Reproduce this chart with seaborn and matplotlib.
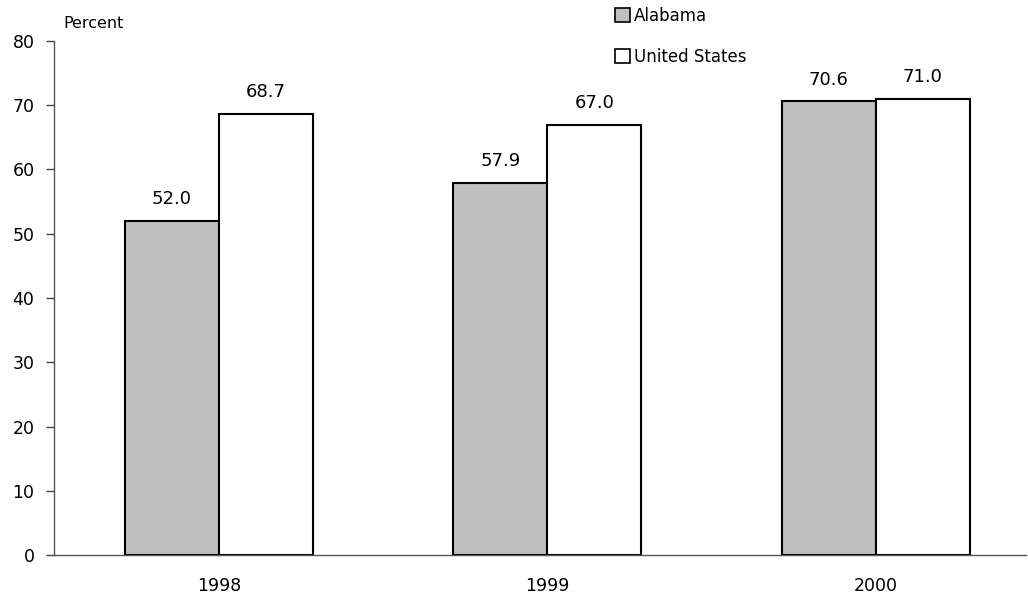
import pandas as pd
import matplotlib
matplotlib.use('Agg')
import matplotlib.pyplot as plt
from matplotlib.patches import Patch
import seaborn as sns

years = ['1998', '1999', '2000']
alabama = [52.0, 57.9, 70.6]
united_states = [68.7, 67.0, 71.0]
series = ['Alabama', 'United States']

df = pd.DataFrame({
    'year': years * 2,
    'percent': alabama + united_states,
    'area': [series[0]] * 3 + [series[1]] * 3,
})

sns.set_theme(style='white')
plt.rcParams['font.family'] = ['DejaVu Sans']
plt.rcParams['text.color'] = 'black'
plt.rcParams['xtick.color'] = 'black'
plt.rcParams['ytick.color'] = 'black'

fig = plt.figure(figsize=(10.28, 5.99), dpi=100)
ax = fig.add_axes([54 / 1028, 44 / 599, 972 / 1028, 514 / 599])

sns.barplot(data=df, x='year', y='percent', hue='area', hue_order=series,
            palette=['#c0c0c0', 'white'], edgecolor='black', linewidth=1.5,
            width=0.572, ax=ax, legend=False)

for cont in ax.containers:
    ax.bar_label(cont, fmt='%.1f', padding=9, fontsize=13, color='black')

ax.set_ylim(0, 80)
ax.set_xlim(-0.502, 2.457)
ax.set_yticks(range(0, 81, 10))
ax.set_xlabel('')
ax.set_ylabel('')
ax.tick_params(axis='y', left=True, length=6, width=1, color='#444444',
               labelsize=12.5, labelcolor='black', pad=8)
ax.tick_params(axis='x', bottom=False, labelsize=12.5, labelcolor='black', pad=10)
for s in ['top', 'right']:
    ax.spines[s].set_visible(False)
for s in ['left', 'bottom']:
    ax.spines[s].set_color('#555555')
    ax.spines[s].set_linewidth(1)

fig.text(63 / 1028, 1 - 24 / 599, 'Percent', fontsize=11.5, va='center', color='black')

handles = [Patch(facecolor='#c0c0c0', edgecolor='black', linewidth=1.2),
           Patch(facecolor='white', edgecolor='black', linewidth=1.2)]
leg = fig.legend(handles, series, loc='upper left', bbox_to_anchor=(600 / 1028, 1.014),
                 frameon=False, fontsize=12, handlelength=0.9, handleheight=0.9,
                 handletextpad=0.25, labelspacing=1.4)
for t in leg.get_texts():
    t.set_color('black')

fig.savefig('out.png', dpi=100)
